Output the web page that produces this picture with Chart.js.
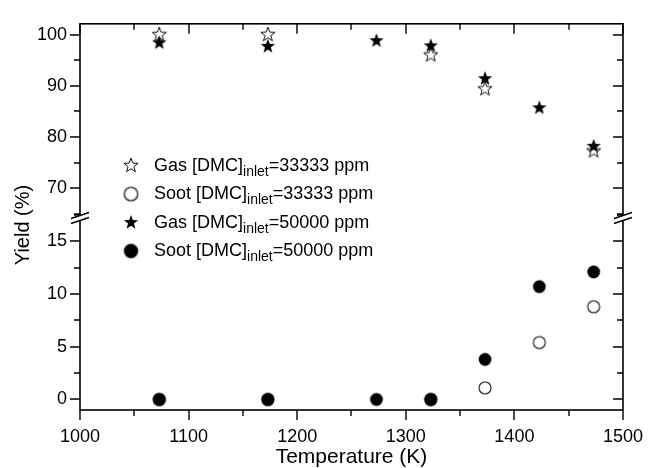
<!DOCTYPE html>
<html>
<head>
<meta charset="utf-8">
<script src="https://cdn.jsdelivr.net/npm/chart.js@4.4.1/dist/chart.umd.min.js"></script>
<style>
  html, body { margin: 0; padding: 0; background: #fff; }
  #wrap { position: relative; width: 659px; height: 468px; }
  #legend { position: absolute; left: 122px; top: 151px; font-family: 'Liberation Sans', Arial, sans-serif; font-size: 18px; color: #000; }
  #legend .row { height: 28.5px; display: flex; align-items: center; white-space: nowrap; }
  #legend img { width: 18px; height: 18px; margin-right: 14px; }
  #legend sub { font-size: 14px; line-height: 0; vertical-align: -5px; }
</style>
</head>
<body>
<div id="wrap">
  <canvas id="grafico" width="659" height="468"></canvas>
  <div id="legend">
    <div class="row"><img id="ley0"><span>Gas [DMC]<sub>inlet</sub>=33333 ppm</span></div>
    <div class="row"><img id="ley1"><span>Soot [DMC]<sub>inlet</sub>=33333 ppm</span></div>
    <div class="row"><img id="ley2"><span>Gas [DMC]<sub>inlet</sub>=50000 ppm</span></div>
    <div class="row"><img id="ley3"><span>Soot [DMC]<sub>inlet</sub>=50000 ppm</span></div>
  </div>
</div>
<script>
// datos
var temperaturas = [1073, 1173, 1273, 1323, 1373, 1423, 1473];
var gas33 = [100.1, 100.1, null, 96.1, 89.5, null, 77.4];
var hollin33 = [0, 0, null, 0, 1.1, 5.4, 8.8];
var gas50 = [98.5, 97.8, 98.9, 97.9, 91.5, 85.8, 78.3];
var hollin50 = [0, 0, 0, 0, 3.8, 10.7, 12.1];

var fuente = "'Liberation Sans', Arial, sans-serif";

function puntos(valores) {
    var res = [];
    for (var i = 0; i < temperaturas.length; i++) {
        if (valores[i] !== null) res.push({ x: temperaturas[i], y: valores[i] });
    }
    return res;
}

// estrella de 5 puntas (chart.js no tiene una)
function estrella(relleno) {
    var c = document.createElement('canvas');
    c.width = 18; c.height = 18;
    var ctx = c.getContext('2d');
    var R = 7.5, r = 3.1;
    ctx.beginPath();
    for (var i = 0; i < 10; i++) {
        var ang = -Math.PI / 2 + i * Math.PI / 5;
        var rad = i % 2 === 0 ? R : r;
        var px = 9 + rad * Math.cos(ang), py = 9.6 + rad * Math.sin(ang);
        if (i === 0) ctx.moveTo(px, py); else ctx.lineTo(px, py);
    }
    ctx.closePath();
    if (relleno) {
        ctx.fillStyle = '#000';
        ctx.fill();
    } else {
        ctx.fillStyle = '#fff';
        ctx.fill();
        ctx.strokeStyle = '#111';
        ctx.lineWidth = 1;
        ctx.stroke();
    }
    return c;
}

function circulo(relleno) {
    var c = document.createElement('canvas');
    c.width = 16; c.height = 16;
    var ctx = c.getContext('2d');
    ctx.beginPath();
    ctx.arc(8, 8, relleno ? 6.4 : 6, 0, Math.PI * 2);
    if (relleno) {
        ctx.fillStyle = '#000';
        ctx.fill();
    } else {
        ctx.fillStyle = '#fff';
        ctx.fill();
        ctx.strokeStyle = '#111';
        ctx.lineWidth = 1.1;
        ctx.stroke();
    }
    return c;
}

var simbolos = [estrella(false), circulo(false), estrella(true), circulo(true)];
for (var k = 0; k < 4; k++) {
    document.getElementById('ley' + k).src = simbolos[k].toDataURL();
}

// marco, marcas de escala y cortes del eje
var marco = {
    id: 'marco',
    afterDraw: function (chart) {
        var ctx = chart.ctx, a = chart.chartArea, s = chart.scales;
        ctx.save();
        ctx.strokeStyle = '#000';
        ctx.lineWidth = 1.6;
        ctx.strokeRect(a.left, a.top, a.right - a.left, a.bottom - a.top);

        ctx.lineWidth = 1.4;
        ctx.beginPath();
        s.x.ticks.forEach(function (t) {
            var px = Math.round(s.x.getPixelForValue(t.value));
            var len = t.value % 100 === 0 ? 10 : 6;
            ctx.moveTo(px, a.bottom); ctx.lineTo(px, a.bottom + len);
            ctx.moveTo(px, a.top); ctx.lineTo(px, a.top + len);
        });
        [['yTop', 10], ['yBot', 5]].forEach(function (par) {
            var esc = s[par[0]];
            esc.ticks.forEach(function (t) {
                var py = Math.round(esc.getPixelForValue(t.value));
                var len = t.value % par[1] === 0 ? 10 : 6;
                ctx.moveTo(a.left - len, py); ctx.lineTo(a.left, py);
                ctx.moveTo(a.right - len, py); ctx.lineTo(a.right, py);
            });
        });
        ctx.stroke();

        var yb = s.yTop.bottom + 2;
        [a.left, a.right].forEach(function (x) {
            ctx.fillStyle = '#fff';
            ctx.beginPath();
            ctx.moveTo(x - 9, yb + 2);
            ctx.lineTo(x + 9, yb - 4);
            ctx.lineTo(x + 9, yb + 1);
            ctx.lineTo(x - 9, yb + 7);
            ctx.closePath();
            ctx.fill();
            ctx.beginPath();
            ctx.moveTo(x - 9, yb + 2); ctx.lineTo(x + 9, yb - 4);
            ctx.moveTo(x - 9, yb + 7); ctx.lineTo(x + 9, yb + 1);
            ctx.stroke();
        });

        // titulo del eje y (abarca las dos partes)
        ctx.translate(23, 225);
        ctx.rotate(-Math.PI / 2);
        ctx.fillStyle = '#000';
        ctx.font = '20px ' + fuente;
        ctx.textAlign = 'center';
        ctx.textBaseline = 'middle';
        ctx.fillText('Yield (%)', 0, 0);
        ctx.restore();
    }
};

// marcas cada "paso" dentro del rango (chart.js cambia las de los extremos)
function soloMultiplos(paso) {
    return function (scale) {
        var lista = [];
        var v = Math.ceil(scale.min / paso - 1e-9) * paso;
        while (v <= scale.max + 1e-9) {
            lista.push({ value: Math.round(v * 1000) / 1000 });
            v += paso;
        }
        scale.ticks = lista;
    };
}

var grafico = new Chart(document.getElementById('grafico'), {
    type: 'scatter',
    data: {
        datasets: [
            { label: 'Gas 50000', data: puntos(gas50), yAxisID: 'yTop', pointStyle: simbolos[2] },
            { label: 'Soot 50000', data: puntos(hollin50), yAxisID: 'yBot', pointStyle: simbolos[3] },
            { label: 'Gas 33333', data: puntos(gas33), yAxisID: 'yTop', pointStyle: simbolos[0] },
            { label: 'Soot 33333', data: puntos(hollin33), yAxisID: 'yBot', pointStyle: simbolos[1] }
        ]
    },
    options: {
        responsive: false,
        animation: false,
        layout: { padding: { top: 13, right: 22, left: 0, bottom: 0 } },
        plugins: { legend: { display: false }, tooltip: { enabled: false } },
        scales: {
            x: {
                type: 'linear', min: 1000, max: 1500,
                grid: { display: false, drawTicks: false },
                border: { display: false },
                afterBuildTicks: soloMultiplos(50),
                afterFit: function (s) { s.height = 58; },
                ticks: {
                    stepSize: 50, padding: 16, maxRotation: 0, autoSkip: false,
                    color: '#000', font: { size: 18, family: fuente },
                    callback: function (v) { return v % 100 === 0 ? v : ''; }
                },
                title: {
                    display: true, text: 'Temperature (K)', color: '#000',
                    font: { size: 21, family: fuente, lineHeight: 1 },
                    padding: { top: 0, bottom: 0 }
                }
            },
            yBot: {
                type: 'linear', position: 'left', stack: 'y', stackWeight: 201,
                min: -1, max: 17.55,
                grid: { display: false, drawTicks: false },
                border: { display: false },
                afterBuildTicks: soloMultiplos(2.5),
                afterFit: function (s) { s.width = 80; },
                ticks: {
                    stepSize: 2.5, padding: 13, autoSkip: false,
                    color: '#000', font: { size: 18, family: fuente },
                    callback: function (v) { return v % 5 === 0 ? v : ''; }
                }
            },
            yTop: {
                type: 'linear', position: 'left', stack: 'y', stackWeight: 196,
                min: 64.9, max: 102.1,
                grid: { display: false, drawTicks: false },
                border: { display: false },
                afterBuildTicks: soloMultiplos(5),
                afterFit: function (s) { s.width = 80; },
                ticks: {
                    stepSize: 5, padding: 13, autoSkip: false,
                    color: '#000', font: { size: 18, family: fuente },
                    callback: function (v) { return v % 10 === 0 ? v : ''; }
                }
            }
        }
    },
    plugins: [marco]
});
</script>
</body>
</html>
